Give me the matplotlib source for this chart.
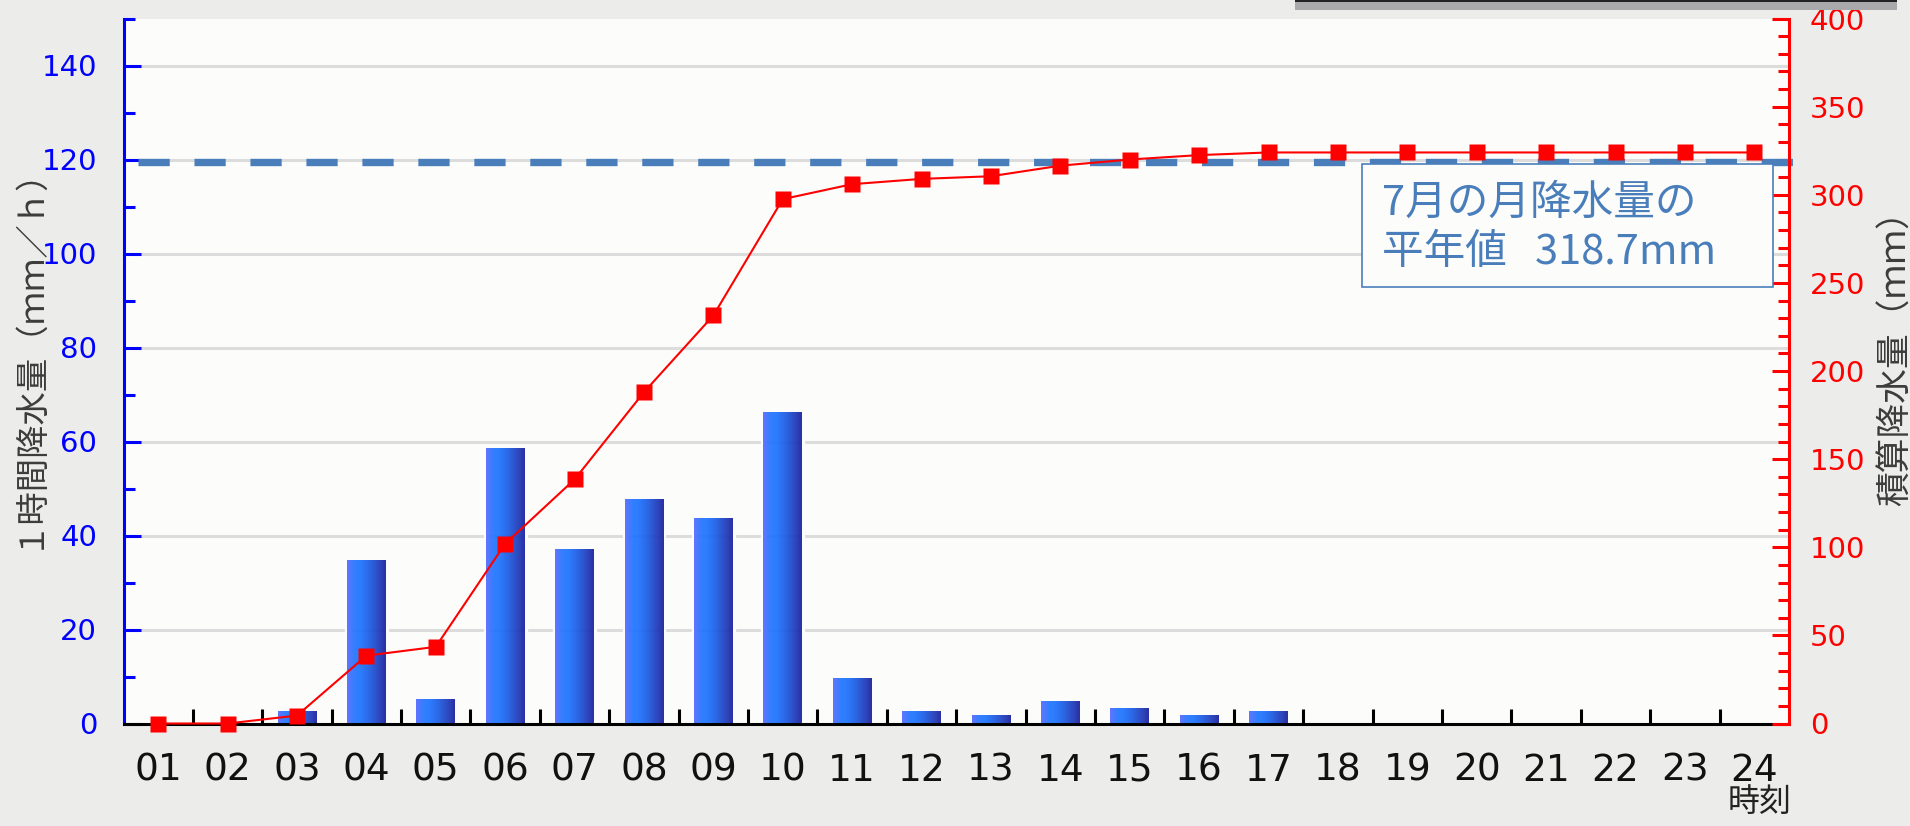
import numpy as np
import matplotlib
matplotlib.use('Agg')
import matplotlib.pyplot as plt
from matplotlib.patches import Rectangle

# 時刻
hours = ['01', '02', '03', '04', '05', '06', '07', '08', '09', '10', '11', '12',
         '13', '14', '15', '16', '17', '18', '19', '20', '21', '22', '23', '24']
# 1時間降水量 (mm/h)
hourly = [0, 0, 2.5, 34.5, 5, 58.5, 37, 47.5, 43.5, 66, 9.5, 2.5,
          1.5, 4.5, 3, 1.5, 2.5, 0, 0, 0, 0, 0, 0, 0]
# 積算降水量 (mm)
total = [0, 0, 4.5, 38.5, 43.5, 102, 138.5, 188, 231.5, 297.5, 306, 309,
         310.5, 316.5, 320, 322.5, 324, 324, 324, 324, 324, 324, 324, 324]
normal_july = 318.7
note_lines = ['7月の月降水量の', '平年値   318.7mm']

BG = '#ececea'
PLOT_BG = '#fcfdfb'
NOTE_BLUE = '#4a7ebb'
JP = ['Noto Sans CJK JP', 'DejaVu Sans']


def bar_gradient():
    # 左から右へ 明るい青 -> 濃い紺
    stops = [0.0, 0.2, 0.35, 0.6, 0.85, 1.0]
    cols = np.array([[0.33, 0.42, 1.00],
                     [0.13, 0.46, 1.00],
                     [0.11, 0.45, 1.00],
                     [0.11, 0.35, 0.88],
                     [0.12, 0.22, 0.72],
                     [0.10, 0.13, 0.62]])
    t = np.linspace(0, 1, 48)
    rgb = np.stack([np.interp(t, stops, cols[:, i]) for i in range(3)], axis=-1)
    return rgb[np.newaxis, :, :]


def draw():
    fig = plt.figure(figsize=(19.10, 8.26), dpi=100, facecolor=BG)
    ax = fig.add_axes([123.5 / 1910, 1 - 723.5 / 826, 1665.5 / 1910, 705 / 826])
    ax.set_facecolor(PLOT_BG)
    x = np.arange(len(hours))
    w = 0.56

    # grid
    ax.set_ylim(0, 150)
    ax.set_xlim(-0.5, len(hours) - 0.5)
    for v in range(20, 150, 20):
        ax.axhline(v, color='#dcdcdc', lw=2.2, zorder=1)

    # bars (gradient)
    grad = bar_gradient()
    for xi, h in zip(x, hourly):
        if h <= 0:
            continue
        ax.add_patch(Rectangle((xi - w / 2, 0), w, h, fill=False, edgecolor=PLOT_BG,
                               lw=3.8, zorder=1.5))
        ax.imshow(grad, extent=[xi - w / 2, xi + w / 2, 0, h], aspect='auto',
                  alpha=0.93, zorder=3, interpolation='bilinear')
    ax.set_xlim(-0.5, len(hours) - 0.5)
    ax.set_ylim(0, 150)

    # left axis
    ax.spines['top'].set_visible(False)
    ax.spines['right'].set_visible(False)
    ax.spines['left'].set_color('#0000ff')
    ax.spines['left'].set_linewidth(2.2)
    ax.spines['bottom'].set_color('black')
    ax.spines['bottom'].set_linewidth(2.2)
    ax.set_yticks(np.arange(0, 141, 20))
    ax.set_yticks(np.arange(10, 151, 20), minor=True)
    ax.tick_params(axis='y', which='major', direction='in', length=12, width=2.2,
                   color='#0000ff', labelcolor='#0000ff', labelsize=21, pad=19)
    ax.tick_params(axis='y', which='minor', direction='in', length=8, width=2.2,
                   color='#0000ff')

    # x axis
    ax.set_xticks(x)
    ax.set_xticklabels(hours)
    ax.set_xticks(x[:-1] + 0.5, minor=True)
    ax.tick_params(axis='x', which='major', length=0, labelsize=27, pad=21,
                   labelcolor='#111111')
    ax.tick_params(axis='x', which='minor', direction='in', length=10.5, width=2.2,
                   color='black')

    # right axis
    ax2 = ax.twinx()
    ax2.set_ylim(0, 400)
    ax2.set_xlim(-0.5, len(hours) - 0.5)
    for s in ['top', 'left', 'bottom']:
        ax2.spines[s].set_visible(False)
    ax2.spines['right'].set_color('#ff0000')
    ax2.spines['right'].set_linewidth(2.2)
    ax2.set_yticks(np.arange(0, 401, 50))
    ax2.set_yticks(np.arange(0, 401, 10), minor=True)
    ax2.tick_params(axis='y', which='major', direction='in', length=12, width=2.2,
                    color='#ff0000', labelcolor='#ff0000', labelsize=21, pad=15)
    ax2.tick_params(axis='y', which='minor', direction='in', length=8, width=2.2,
                    color='#ff0000')

    # 平年値の破線
    lw = 5.3
    ax2.plot([0.0087, 1.0036], [normal_july, normal_july], color=NOTE_BLUE, lw=lw,
             dashes=(22.5 / lw, 17.8 / lw), solid_capstyle='butt', dash_capstyle='butt',
             transform=ax2.get_yaxis_transform(), clip_on=False, zorder=2)

    # 積算降水量
    ax2.plot(x, total, color='#ff0000', lw=1.5, marker='s', ms=11.5, mec='none',
             clip_on=False, zorder=5)

    # 注記
    ax2.add_patch(Rectangle((0.7436, 0.6191), 0.2468, 0.1745, transform=ax2.transAxes,
                            facecolor=PLOT_BG, edgecolor=NOTE_BLUE, lw=1.2, zorder=3))
    ax2.text(0.7556, 0.7383, note_lines[0], transform=ax2.transAxes, fontsize=30,
             family=JP, color=NOTE_BLUE, va='center', ha='left', zorder=4)
    ax2.text(0.7556, 0.6674, note_lines[1], transform=ax2.transAxes, fontsize=30,
             family=JP, color=NOTE_BLUE, va='center', ha='left', zorder=4)

    # 軸ラベル
    fig.text(27 / 1910, 1 - 349 / 826, '１時間降水量（ｍｍ／ｈ）', rotation=90,
             fontsize=24, family=JP, color='#3c3c3c', ha='center', va='center')
    fig.text(1896 / 1910, 1 - 350 / 826, '積算降水量（ｍｍ）', rotation=90,
             fontsize=25, family=JP, color='#3c3c3c', ha='center', va='center')
    fig.text(1760 / 1910, 1 - 802 / 826, '時刻', fontsize=23, family=JP,
             color='#222222', ha='center', va='center')

    # 上のグレーの帯
    fig.patches.append(Rectangle((1295 / 1910, 1 - 10 / 826), 602 / 1910, 10 / 826,
                                 transform=fig.transFigure, facecolor='#a9a8ab',
                                 edgecolor='none'))
    fig.patches.append(Rectangle((1295 / 1910, 1 - 1.5 / 826), 602 / 1910, 1.5 / 826,
                                 transform=fig.transFigure, facecolor='#222222',
                                 edgecolor='none'))

    fig.savefig('out.png', dpi=100, facecolor=BG)


def main():
    draw()


if __name__ == '__main__':
    main()
